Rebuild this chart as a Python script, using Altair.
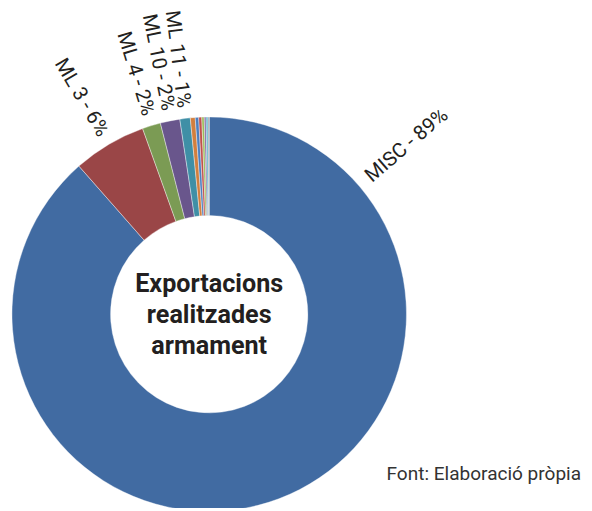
import math
import altair as alt
import pandas as pd

# ---- data ----
categories = ["MISC", "ML 3", "ML 4", "ML 10", "ML 11",
              "ML 5", "ML 1", "ML 2", "ML 6", "ML 7", "ML 8", "ML 9"]
values = [88.5, 6.0, 1.5, 1.6, 0.85, 0.4, 0.28, 0.25, 0.2, 0.15, 0.15, 0.1]
labels = ["MISC - 89%", "ML 3 - 6%", "ML 4 - 2%", "ML 10 - 2%", "ML 11 - 1%",
          "", "", "", "", "", "", ""]
colors = ["#416BA2", "#9A4647", "#7B9B54", "#69568C", "#3F8FA6",
          "#D27F3E", "#4C7FBF", "#C0504D", "#9BBB59", "#8064A2", "#4BACC6", "#A0A0A0"]

center_title = ["Exportacions", "realitzades", "armament"]
source_note = "Font: Elaboració pròpia"

# ---- layout ----
CX, CY = 204, 307
R_OUT, R_IN = 200, 100
FONT = "Roboto"
TXT = "#231F20"

df = pd.DataFrame({"cat": categories, "val": values, "idx": list(range(len(categories)))})

total = sum(values)
cum = 0.0
rows = []
for c, v, l in zip(categories, values, labels):
    mid = (cum + v / 2) / total * 360.0
    cum += v
    if l:
        rows.append({"label": l, "mid": mid})
lab = pd.DataFrame(rows)
# radial text for small slices (reading inward)
left = lab[lab["label"] != "MISC - 89%"].copy()
left["th"] = left["mid"] * math.pi / 180
left["rot"] = (left["mid"] + 90) % 360
# MISC label placed on the upper right of its slice
misc = lab[lab["label"] == "MISC - 89%"].copy()
misc_deg = 49.5
misc["th"] = misc_deg * math.pi / 180
misc["rot"] = (misc_deg - 90) % 360

arcs = alt.Chart(df).mark_arc(
    outerRadius=R_OUT, innerRadius=R_IN, stroke="white", strokeWidth=0.4
).encode(
    theta=alt.Theta("val:Q", stack=True),
    order=alt.Order("idx:Q"),
    color=alt.Color("cat:N", scale=alt.Scale(domain=categories, range=colors), legend=None),
    x=alt.value(CX), y=alt.value(CY),
)

left_text = alt.Chart(left).mark_text(
    align="right", baseline="middle", font=FONT, fontSize=20.5, color=TXT, radius=211
).encode(
    theta=alt.Theta("th:Q", scale=None),
    angle=alt.Angle("rot:Q", scale=None),
    text="label:N",
    x=alt.value(CX), y=alt.value(CY),
)

misc_text = alt.Chart(misc).mark_text(
    align="left", baseline="middle", font=FONT, fontSize=20.5, color=TXT, radius=212
).encode(
    theta=alt.Theta("th:Q", scale=None),
    angle=alt.Angle("rot:Q", scale=None),
    text="label:N",
    x=alt.value(CX), y=alt.value(CY),
)

center = alt.Chart(pd.DataFrame({"t": [0]})).mark_text(
    align="center", baseline="middle", font=FONT, fontSize=25.5, fontWeight="bold",
    color=TXT, lineHeight=31.5
).encode(
    text=alt.value(center_title),
    x=alt.value(CX), y=alt.value(CY - 31),
)

note = alt.Chart(pd.DataFrame({"t": [0]})).mark_text(
    align="right", baseline="alphabetic", font=FONT, fontSize=19.3, color="#333333"
).encode(
    text=alt.value(source_note),
    x=alt.value(581), y=alt.value(475),
)

chart = alt.layer(arcs, left_text, misc_text, center, note).properties(
    width=584, height=500,
    autosize=alt.AutoSizeParams(type="none"),
    padding=0,
).configure_view(stroke=None)

chart.save("out.html", embed_options={"renderer": "svg", "actions": False})
